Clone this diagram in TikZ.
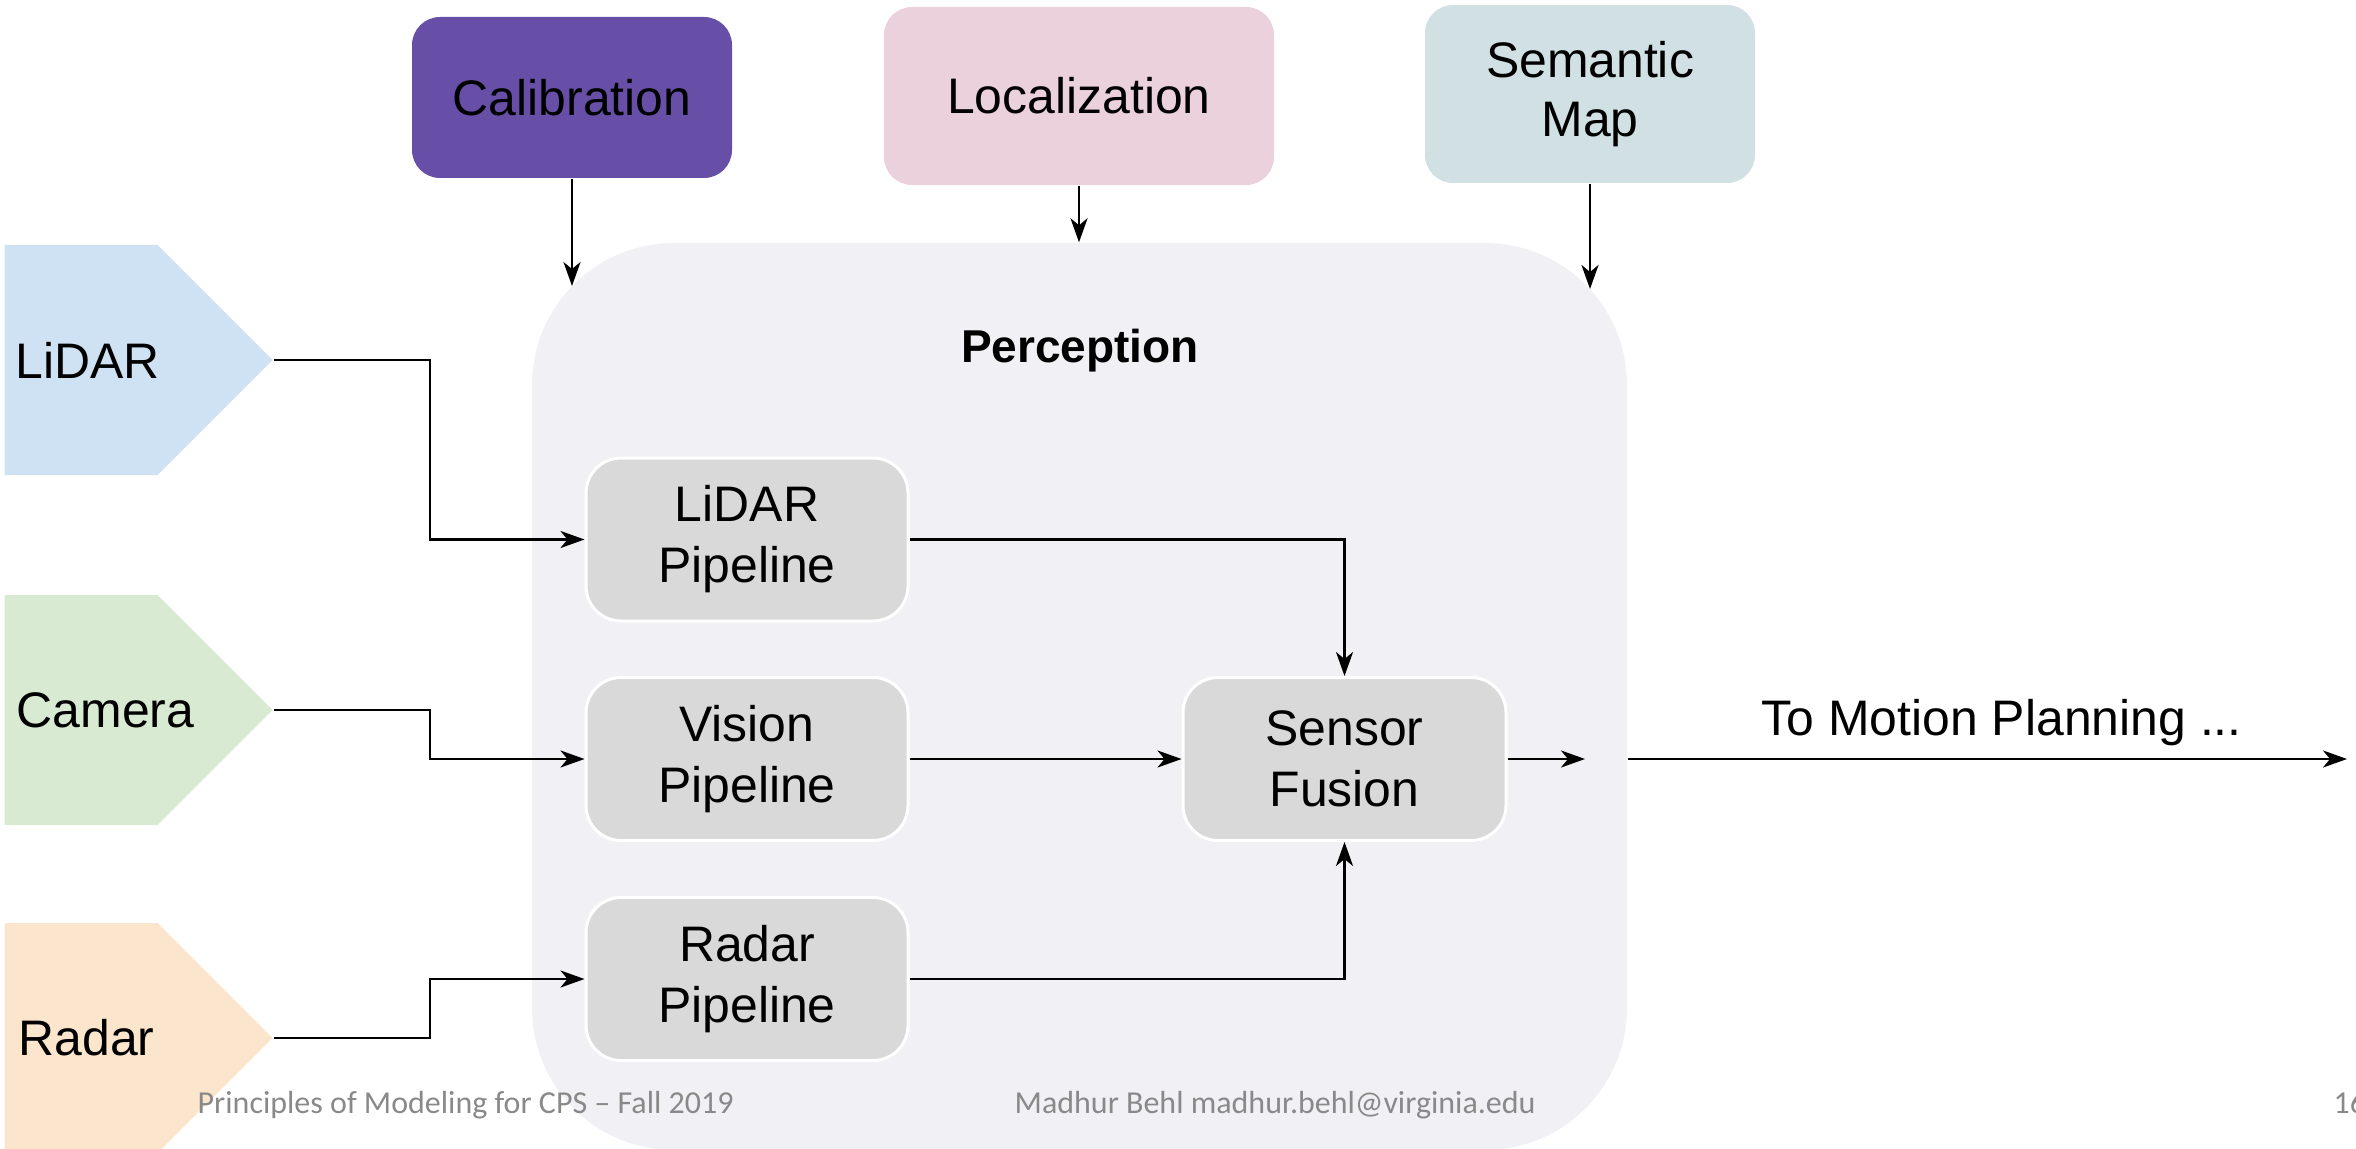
\documentclass[tikz,border=0pt]{standalone}
\usepackage{fontspec}
\setmainfont{Liberation Sans}
\newfontfamily\footerfont{Carlito}
\usetikzlibrary{arrows.meta, shapes.symbols}

\definecolor{calibpurple}{RGB}{103,78,167}
\definecolor{locpink}{RGB}{234,209,220}
\definecolor{mapcyan}{RGB}{208,224,227}
\definecolor{lidarblue}{RGB}{207,226,243}
\definecolor{camgreen}{RGB}{217,234,211}
\definecolor{radarorange}{RGB}{252,229,205}
\definecolor{percepgray}{RGB}{241,241,245}
\definecolor{pipegray}{RGB}{217,217,217}
\definecolor{footgray}{RGB}{137,137,137}

\begin{document}
\begin{tikzpicture}[
    box/.style={rectangle, rounded corners=0.28cm, minimum height=1.78cm, inner sep=0pt, align=center, font=\fontsize{14.2}{17}\selectfont},
    pipe/.style={rectangle, rounded corners=0.35cm, fill=pipegray, draw=white, line width=0.03cm, minimum width=3.22cm, minimum height=1.63cm, align=center, font=\fontsize{14.2}{17.4}\selectfont},
    sensor/.style={signal, signal to=east, signal pointer angle=90, minimum width=2.68cm, minimum height=2.30cm, inner sep=0pt, anchor=west},
    sensorlabel/.style={anchor=west, inner sep=0pt, font=\fontsize{14.2}{17}\selectfont},
    footer/.style={anchor=base west, inner sep=0pt, text=footgray, font=\footerfont\fontsize{9.1}{11}\selectfont},
    arrow/.style={-{Stealth[length=0.24cm, width=0.17cm, inset=0.07cm]}, line width=0.8pt}
]
\useasboundingbox (0,0) rectangle (23.56,11.48);

% perception block
\node[rectangle, rounded corners=1.42cm, fill=percepgray, minimum width=10.95cm, minimum height=9.07cm] (percep) at (10.795,4.515) {};
\node[anchor=base, inner sep=0pt, font=\bfseries\fontsize{13.1}{16}\selectfont] (perceptitle) at (10.80,7.86) {Perception};

% inputs from above
\node[box, fill=calibpurple, minimum width=3.20cm, minimum height=1.61cm] (calib) at (5.72,10.505) {Calibration};
\node[box, fill=locpink, minimum width=3.90cm] (local) at (10.79,10.52) {Localization};
\node[box, fill=mapcyan, minimum width=3.30cm] (smap) at (15.90,10.54) {Semantic\\Map};

% sensors
\node[sensor, fill=lidarblue] (lidar) at (0.04,7.88) {};
\node[sensor, fill=camgreen] (camera) at (0.04,4.38) {};
\node[sensor, fill=radarorange] (radar) at (0.04,1.10) {};
\node[sensorlabel] (lidarlbl) at (0.15,7.88) {LiDAR};
\node[sensorlabel] (cameralbl) at (0.16,4.38) {Camera};
\node[sensorlabel] (radarlbl) at (0.18,1.10) {Radar};

% pipelines
\node[pipe] (lidarpipe) at (7.47,6.085) {LiDAR\\Pipeline};
\node[pipe] (visionpipe) at (7.47,3.89) {Vision\\Pipeline};
\node[pipe] (radarpipe) at (7.47,1.69) {Radar\\Pipeline};
\node[pipe, minimum width=3.23cm] (fusion) at (13.445,3.89) {Sensor\\Fusion};

\coordinate (bend) at (4.30,0);
\coordinate (calibin) at (5.72,8.62);
\coordinate (smapin) at (15.90,8.59);
\coordinate (fusionout) at (15.85,3.89);
\coordinate (planning) at (23.47,3.89);

\draw[arrow] (calib.south) -- (calibin);
\draw[arrow] (local.south) -- (local.south |- percep.north);
\draw[arrow] (smap.south) -- (smapin);

\draw[arrow] (lidar.east) -- (lidar.east -| bend) |- (lidarpipe.west);
\draw[arrow] (camera.east) -- (camera.east -| bend) |- (visionpipe.west);
\draw[arrow] (radar.east) -- (radar.east -| bend) |- (radarpipe.west);

\draw[arrow] (lidarpipe.east) -| (fusion.north);
\draw[arrow] (visionpipe) -- (fusion);
\draw[arrow] (radarpipe.east) -| (fusion.south);
\draw[arrow] (fusion.east) -- (fusionout);
\draw[arrow] (percep.east |- fusion.east) -- (planning) node[above, pos=0.52, font=\fontsize{14.2}{17}\selectfont] (planlbl) {To Motion Planning ...};

% slide footer
\node[footer] (course) at (1.97,0.35) {Principles of Modeling for CPS – Fall 2019};
\node[footer] (contact) at (10.14,0.35) {Madhur Behl madhur.behl@virginia.edu};
\node[footer] (pagenum) at (23.33,0.35) {16};
\end{tikzpicture}
\end{document}
